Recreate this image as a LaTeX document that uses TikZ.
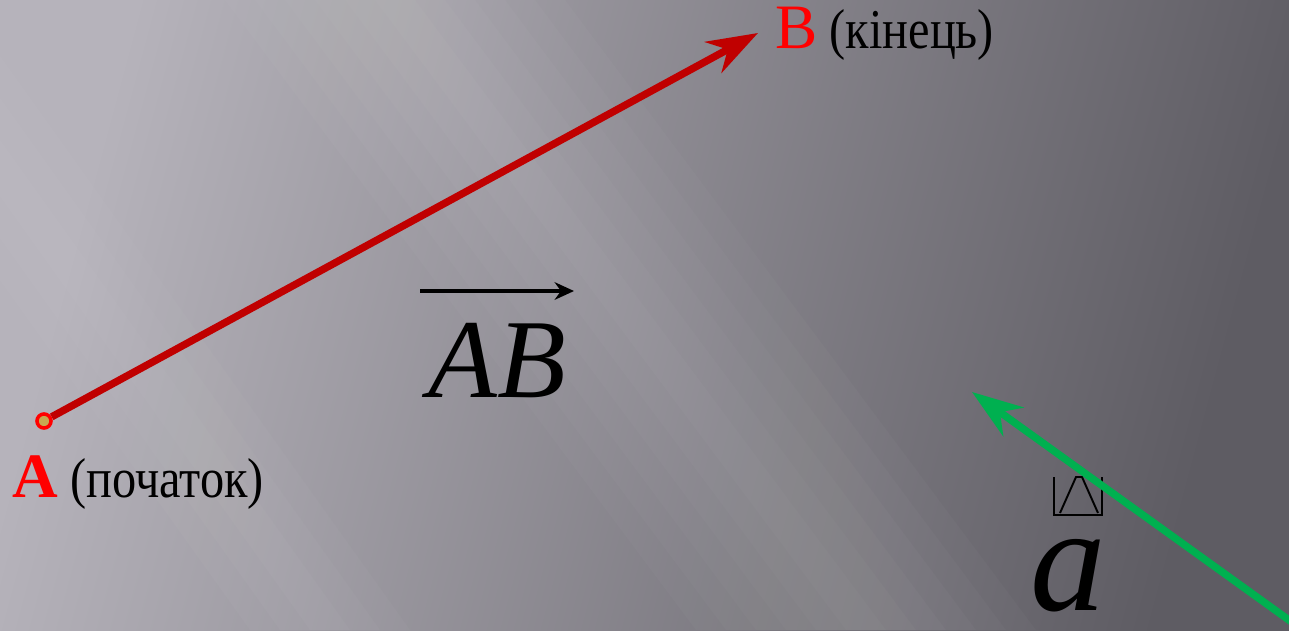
\documentclass[tikz,border=0pt]{standalone}
\usepackage{fontspec}
\setmainfont{Liberation Serif}
\newfontfamily\narrowfont[FakeStretch=0.86]{Liberation Serif}
\usepackage{tikz}
\usetikzlibrary{arrows.meta,positioning}
\definecolor{bgLight}{HTML}{B6B3BB}
\definecolor{bgDark}{HTML}{5E5C63}
\definecolor{vecRed}{HTML}{C00000}
\definecolor{vecGreen}{HTML}{00B050}
\definecolor{pointRed}{HTML}{FF0000}
\definecolor{pointFill}{HTML}{C8A850}

\tikzset{
  vec/.style={line width=4.2pt,-{Stealth[length=29pt,width=20pt]}},
  label/.style={anchor=base west,inner sep=0pt,font=\narrowfont\fontsize{32}{36}\selectfont},
  glyph/.style={line width=1.1pt,black}
}

\begin{document}
\begin{tikzpicture}[x=0.02cm,y=-0.02cm]
  \useasboundingbox (0,0) rectangle (1289,630);
  \clip (0,0) rectangle (1289,630);
  % background
  \shade[left color=bgLight,right color=bgDark,shading angle=75] (0,0) rectangle (1289,630);
  \foreach \w in {20,50,80,110,140,170}
    \fill[white,opacity=0.025] (395-\w,0) -- (395+\w,0) -- (866+\w,630) -- (866-\w,630) -- cycle;
  \foreach \w in {20,50,80}
    \fill[white,opacity=0.025] (-120-\w,0) -- (-120+\w,0) -- (330+\w,630) -- (330-\w,630) -- cycle;

  % vector AB
  \node[circle,draw=pointRed,fill=pointFill,line width=2pt,inner sep=0pt,minimum size=8pt] (pA) at (44,421) {};
  \coordinate (pB) at (758,33);
  \draw[vec,vecRed] (pA) -- (pB);
  \node[label] (lblA) at (12,497) {\textcolor{pointRed}{\rmfamily\fontsize{36}{40}\selectfont\bfseries A} (початок)};
  \node[label] (lblB) at (775,48) {\textcolor{pointRed}{\rmfamily\fontsize{36}{40}\selectfont B} (кінець)};

  % notation AB
  \node[anchor=base west,inner sep=0pt,font=\fontsize{64}{70}\selectfont\itshape] (nameAB) at (428,397) {AB};
  \coordinate (arrL) at (420,291);
  \coordinate (arrR) at (574,291);
  \draw[line width=2.3pt,-{Stealth[length=11pt,width=10pt]}] (arrL) -- (arrR);

  % vector a
  \draw[glyph] (1054,477) -- (1054,515) -- (1102,515) -- (1102,477);
  \draw[glyph] (1060,513) -- (1076,477) -- (1082,477) -- (1098,513);
  \node[anchor=base west,inner sep=0pt,text depth=0pt,font=\fontsize{86}{90}\selectfont\itshape] (nameA) at (1030,610) {a};
  \coordinate (aEnd) at (1300,628);
  \coordinate (aTip) at (972,392);
  \draw[vec,vecGreen] (aEnd) -- (aTip);
\end{tikzpicture}
\end{document}
